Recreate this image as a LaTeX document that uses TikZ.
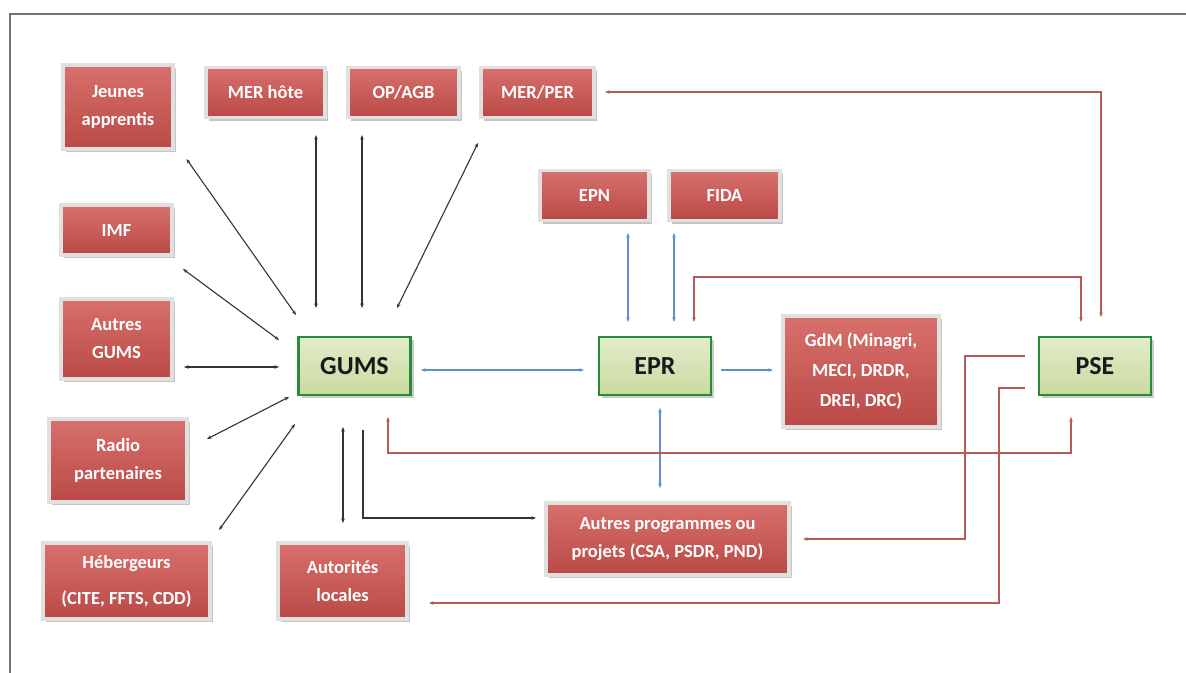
\documentclass[tikz,border=0pt]{standalone}
\usepackage{fontspec}
\setmainfont{Carlito}
\usetikzlibrary{arrows.meta,shadows,calc}
\definecolor{boxred}{HTML}{C4524F}
\definecolor{boxredtop}{HTML}{D8706C}
\definecolor{boxredbot}{HTML}{B94946}
\definecolor{greentop}{HTML}{E2ECCB}
\definecolor{greenbot}{HTML}{C9DA9F}
\definecolor{greenedge}{HTML}{2A8A3A}
\definecolor{lnblue}{HTML}{5F8FC6}
\definecolor{lnred}{HTML}{B85A57}
\definecolor{lnblack}{HTML}{333333}
\tikzset{
  redbox/.style={rectangle, draw=black!12, line width=3.5pt, shading=axis,
    top color=boxredtop, middle color=boxred, bottom color=boxredbot,
    text=white, font=\bfseries\fontsize{18.5}{28}\selectfont, align=center,
    inner sep=0pt, drop shadow={shadow xshift=3pt, shadow yshift=-3pt, opacity=0.45}},
  greenbox/.style={rectangle, draw=greenedge, line width=2.5pt, shading=axis,
    top color=greentop, bottom color=greenbot, text=black!90,
    font=\bfseries\fontsize{26}{30}\selectfont, align=center, inner sep=0pt,
    minimum width=112pt, minimum height=58pt,
    drop shadow={shadow xshift=3pt, shadow yshift=-3pt, opacity=0.4}},
  blk/.style={draw=lnblack, line width=1.1pt},
  blu/.style={draw=lnblue, line width=1.8pt},
  rdl/.style={draw=lnred, line width=1.6pt},
  hd/.tip={Stealth[length=4.5pt,width=3.5pt]},
}
\begin{document}
\begin{tikzpicture}[x=1pt,y=-1pt]
\useasboundingbox (0,0) rectangle (1186,672);
\fill[white] (0,0) rectangle (1186,672);
% outer frame
\draw[black!55, line width=2pt] (10,700) -- (10,14) -- (1200,14);

% red boxes
\node[redbox, minimum width=110pt, minimum height=84pt] (jeunes) at (118,107) {Jeunes\\apprentis};
\node[redbox, minimum width=119pt, minimum height=50pt] (merhote) at (265.5,92.5) {MER hôte};
\node[redbox, minimum width=111pt, minimum height=50pt] (opagb) at (403.5,92.5) {OP/AGB};
\node[redbox, minimum width=113pt, minimum height=50pt] (merper) at (537.5,92.5) {MER/PER};
\node[redbox, minimum width=111pt, minimum height=50pt] (imf) at (116.5,230) {IMF};
\node[redbox, minimum width=111pt, minimum height=80pt] (autresgums) at (116.5,339) {Autres\\GUMS};
\node[redbox, minimum width=138pt, minimum height=83pt] (radio) at (118,460.5) {Radio\\partenaires};
\node[redbox, minimum width=167pt, minimum height=76pt] (heberg) at (126.5,581) {Hébergeurs\\[8pt](CITE, FFTS, CDD)};
\node[redbox, minimum width=129pt, minimum height=76pt] (autorites) at (342.5,581) {Autorités\\locales};
\node[redbox, minimum width=109pt, minimum height=50pt] (epn) at (594.5,195.5) {EPN};
\node[redbox, minimum width=111pt, minimum height=50pt] (fida) at (724.5,195.5) {FIDA};
\node[redbox, minimum width=156pt, minimum height=111pt, font=\bfseries\fontsize{18.5}{30}\selectfont] (gdm) at (861,371.5) {GdM (Minagri,\\MECI, DRDR,\\DREI, DRC)};
\node[redbox, minimum width=243pt, minimum height=72pt] (autresprog) at (667.5,539) {Autres programmes ou\\projets (CSA, PSDR, PND)};

% green boxes
\node[greenbox] (gums) at (354.5,366) {GUMS};
\node[greenbox] (epr) at (655,366) {EPR};
\node[greenbox] (pse) at (1095,366) {PSE};

% black connectors around GUMS
\draw[blk, hd-hd] ([shift={(68.5,52)}]jeunes.center) -- ([shift={(-58.5,-51)}]gums.center);
\draw[blk, hd-hd] ([shift={(50.5,42.5)}]merhote.center) -- ([shift={(-38.5,-58)}]gums.center);
\draw[blk, hd-hd] ([shift={(-41.5,42.5)}]opagb.center) -- ([shift={(7.5,-58)}]gums.center);
\draw[blk, hd-hd] ([shift={(-59.5,50.5)}]merper.center) -- ([shift={(42.5,-58)}]gums.center);
\draw[blk, hd-hd] ([shift={(66.5,39)}]imf.center) -- ([shift={(-75.5,-26)}]gums.center);
\draw[blk, hd-hd] ([shift={(67.5,28)}]autresgums.center) -- ([shift={(-75.5,1)}]gums.center);
\draw[blk, hd-hd] ([shift={(89,-21.5)}]radio.center) -- ([shift={(-65.5,31)}]gums.center);
\draw[blk, hd-hd] ([shift={(92.5,-51)}]heberg.center) -- ([shift={(-59.5,58)}]gums.center);
\draw[blk, hd-hd] ([shift={(0.5,-58)}]autorites.center) -- ([shift={(-11.5,61)}]gums.center);
\draw[blk, -hd] ([shift={(8.5,64)}]gums.center) |- ([shift={(-131.5,-21)}]autresprog.center);

% blue connectors
\draw[blu, hd-hd] ([shift={(66.5,4)}]gums.center) -- ([shift={(-71,4)}]epr.center);
\draw[blu, -hd] ([shift={(66,4)}]epr.center) -- ([shift={(-88,-1.5)}]gdm.center);
\draw[blu, hd-hd] ([shift={(33.5,37.5)}]epn.center) -- ([shift={(-27,-44)}]epr.center);
\draw[blu, hd-hd] ([shift={(-50.5,37.5)}]fida.center) -- ([shift={(19,-44)}]epr.center);
\draw[blu, hd-hd] ([shift={(5,42)}]epr.center) -- ([shift={(-7.5,-51)}]autresprog.center);

% red connectors
\draw[rdl, hd-hd] ([shift={(33.5,51)}]gums.center) -- ([shift={(33.5,87)}]gums.center) -| ([shift={(-24,51)}]pse.center);
\draw[rdl, hd-hd] ([shift={(6,-49)}]pse.center) |- ([shift={(67.5,-0.5)}]merper.center);
\draw[rdl, hd-hd] ([shift={(39,-44)}]epr.center) -- ([shift={(39,-89)}]epr.center) -| ([shift={(-14,-44)}]pse.center);
\draw[rdl, -hd] ([shift={(-70,-10)}]pse.center) -- ++(-60,0) |- ([shift={(135.5,0)}]autresprog.center);
\draw[rdl, -hd] ([shift={(-70,22)}]pse.center) -- ++(-26,0) |- ([shift={(86.5,22)}]autorites.center);
\end{tikzpicture}
\end{document}
